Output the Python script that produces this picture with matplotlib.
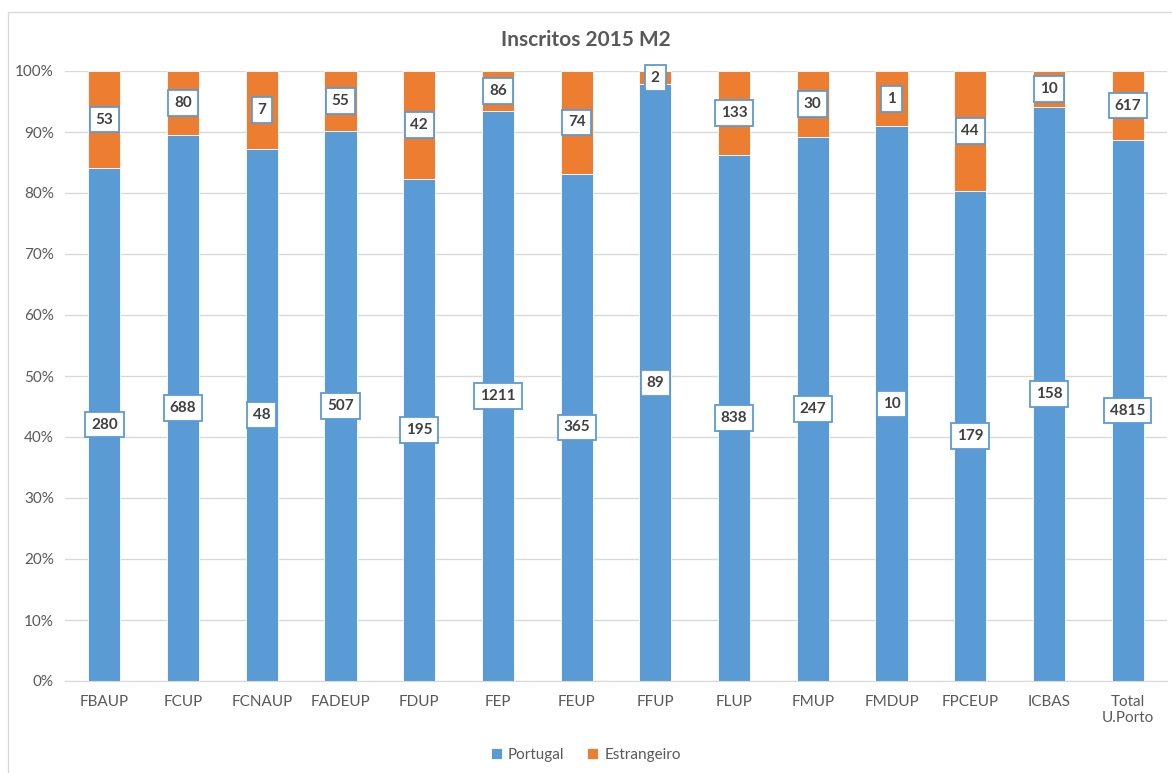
import matplotlib
matplotlib.use("Agg")
import matplotlib.pyplot as plt
import numpy as np
from matplotlib.patches import Rectangle

categories = ["FBAUP", "FCUP", "FCNAUP", "FADEUP", "FDUP", "FEP", "FEUP", "FFUP",
              "FLUP", "FMUP", "FMDUP", "FPCEUP", "ICBAS", "Total\nU.Porto"]
portugal = [280, 688, 48, 507, 195, 1211, 365, 89, 838, 247, 10, 179, 158, 4815]
estrangeiro = [53, 80, 7, 55, 42, 86, 74, 2, 133, 30, 1, 44, 10, 617]
yticks = [0, 10, 20, 30, 40, 50, 60, 70, 80, 90, 100]

plt.rcParams['font.family'] = ['Lato', 'DejaVu Sans']

BLUE = "#5B9BD5"
ORANGE = "#ED7D31"

fig = plt.figure(figsize=(11.72, 7.73), dpi=100)
ax = fig.add_axes([65/1172, 1-681/773, (1167-65)/1172, (681-71)/773])

p = np.array(portugal, float)
e = np.array(estrangeiro, float)
tot = p + e
pp = p / tot * 100
ep = e / tot * 100
x = np.arange(len(categories))
w = 0.41

ax.bar(x, pp, w, color=BLUE, edgecolor="white", linewidth=0.6, label="Portugal", zorder=2)
ax.bar(x, ep, w, bottom=pp, color=ORANGE, edgecolor="white", linewidth=0.6, label="Estrangeiro", zorder=2)

box = dict(boxstyle="square,pad=0.38", facecolor="white", edgecolor=BLUE, linewidth=1.3)
for i in range(len(x)):
    ax.text(x[i], pp[i]/2, str(portugal[i]), ha="center", va="center", fontsize=11,
            fontweight="bold", color="#404040", bbox=box, zorder=5)
    ax.text(x[i], pp[i] + ep[i]/2, str(estrangeiro[i]), ha="center", va="center", fontsize=11,
            fontweight="bold", color="#404040", bbox=box, zorder=5)

ax.set_xlim(-0.5, len(x) - 0.5)
ax.set_ylim(0, 100)
ax.set_yticks(yticks)
ax.set_yticklabels([f"{t}%" for t in yticks])
ax.set_xticks(x)
ax.set_xticklabels(categories)
ax.tick_params(axis="both", length=0, colors="#595959", labelsize=11)
ax.tick_params(axis="x", pad=10)
ax.tick_params(axis="y", pad=8)
ax.grid(axis="y", color="#D9D9D9", linewidth=1, zorder=0)
ax.set_axisbelow(True)
for s in ["top", "right", "left"]:
    ax.spines[s].set_visible(False)
ax.spines["bottom"].set_color("#D9D9D9")

fig.text(0.5, 1-40/773, "Inscritos 2015 M2", ha="center", va="center", fontsize=15,
         fontweight="bold", color="#595959")

fig.legend(loc="center", bbox_to_anchor=(0.5, 1-755/773), ncol=2, frameon=False,
           fontsize=11, handlelength=0.7, handleheight=0.7, columnspacing=1.5,
           handletextpad=0.4, labelcolor="#595959")

fig.patches.append(Rectangle((8/1172, -0.1), 1.2, 0.1 + 1 - 12/773, transform=fig.transFigure,
                             fill=False, edgecolor="#D9D9D9", linewidth=1))

fig.savefig("out.png", dpi=100)
